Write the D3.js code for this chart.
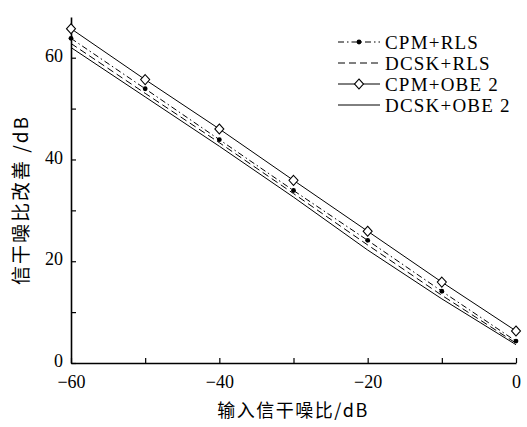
<!DOCTYPE html>
<html lang="zh">
<head>
    <meta charset="UTF-8">
    <title>信干噪比改善</title>
    <script src="https://cdn.jsdelivr.net/npm/d3@7"></script>
    <style>
        body { margin: 0; background: #fff; }
        text { font-family: "Liberation Serif", "DejaVu Serif", serif; fill: #000; }
        .cjk { font-family: "Noto Sans CJK SC", sans-serif; }
    </style>
</head>
<body>
<script>
    const snr = [-60, -50, -40, -30, -20, -10, 0]
    const cpmRls = [63.8, 53.9, 43.9, 33.9, 24.1, 14.1, 4.3]
    const dcskRls = [62.8, 53.0, 43.3, 33.3, 23.2, 13.3, 3.9]
    const cpmObe = [65.7, 55.7, 46.0, 35.9, 25.9, 15.9, 6.3]
    const dcskObe = [62.0, 52.3, 42.6, 32.6, 22.2, 12.6, 3.6]
    const xTicks = [-60, -50, -40, -30, -20, -10, 0]
    const xLabels = [-60, -40, -20, 0]
    const yTicks = [0, 10, 20, 30, 40, 50, 60]
    const yLabels = [0, 20, 40, 60]

    const [width, height] = [527, 427]
    const x = d3.scaleLinear().domain([-60, 0]).range([71, 516])
    const y = d3.scaleLinear().domain([0, 68]).range([363, 17])

    const svg = d3.select('body').append('svg')
        .attr('width', width)
        .attr('height', height)

    // axes
    const xAxis = svg.append('g').attr('transform', `translate(0,${y(0)})`)
        .call(d3.axisBottom(x).tickValues(xTicks).tickSizeInner(-5).tickSizeOuter(0)
            .tickFormat(d => xLabels.includes(d) ? d3.format('')(d) : ''))
    xAxis.select('.domain').attr('stroke-width', 1.6)
    xAxis.selectAll('.tick line').attr('stroke-width', 1.2)
    xAxis.selectAll('.tick text').attr('font-size', 18).attr('y', 12)
        .style('font-family', '"Liberation Serif", serif')

    const yAxis = svg.append('g').attr('transform', `translate(${x(-60)},0)`)
        .call(d3.axisLeft(y).tickValues(yTicks).tickSizeInner(-5).tickSizeOuter(0)
            .tickFormat(d => yLabels.includes(d) ? d : ''))
    yAxis.select('.domain').attr('stroke-width', 1.6)
    yAxis.selectAll('.tick line').attr('stroke-width', 1.2)
    yAxis.selectAll('.tick text').attr('font-size', 18).attr('x', -8).attr('dy', '0.2em')
        .style('font-family', '"Liberation Serif", serif')

    // series
    const series = [
        {name: 'CPM+RLS', values: cpmRls, dash: '6,3,1.5,3', marker: 'dot'},
        {name: 'DCSK+RLS', values: dcskRls, dash: '7,4', marker: null},
        {name: 'CPM+OBE 2', values: cpmObe, dash: null, marker: 'diamond'},
        {name: 'DCSK+OBE 2', values: dcskObe, dash: null, marker: null}
    ]
    const line = d3.line().x(d => x(d[0])).y(d => y(d[1]))
    const diamond = d3.symbol().type(d3.symbolDiamond).size(45)
    const dScale = 'scale(1.25,0.8)'

    series.forEach(s => {
        const pts = snr.map((v, i) => [v, s.values[i]])
        svg.append('path').datum(pts)
            .attr('d', line)
            .attr('fill', 'none')
            .attr('stroke', '#000')
            .attr('stroke-width', 1)
            .attr('stroke-dasharray', s.dash)
        if (s.marker === 'dot') {
            svg.selectAll(null).data(pts).enter().append('circle')
                .attr('cx', d => x(d[0])).attr('cy', d => y(d[1])).attr('r', 2.4)
                .attr('fill', '#000')
        }
        if (s.marker === 'diamond') {
            svg.selectAll(null).data(pts).enter().append('path')
                .attr('d', diamond)
                .attr('transform', d => `translate(${x(d[0])},${y(d[1])}) ${dScale}`)
                .attr('fill', '#fff').attr('stroke', '#000').attr('stroke-width', 1)
        }
    })

    // legend
    const legend = svg.append('g').attr('transform', 'translate(338,42)')
    series.forEach((s, i) => {
        const g = legend.append('g').attr('transform', `translate(0,${i * 21})`)
        g.append('line').attr('x1', 0).attr('x2', 42).attr('y1', 0).attr('y2', 0)
            .attr('stroke', '#000').attr('stroke-width', 1)
            .attr('stroke-dasharray', s.dash)
        if (s.marker === 'dot') g.append('circle').attr('cx', 21).attr('cy', 0).attr('r', 2.4)
        if (s.marker === 'diamond') g.append('path').attr('d', diamond)
            .attr('transform', `translate(21,0) ${dScale}`)
            .attr('fill', '#fff').attr('stroke', '#000')
        g.append('text').attr('x', 47).attr('y', 7).attr('font-size', 19)
            .attr('letter-spacing', 1.2).text(s.name)
    })

    // axis titles
    svg.append('text').attr('class', 'cjk')
        .attr('x', 293).attr('y', 417).attr('text-anchor', 'middle').attr('font-size', 18)
        .attr('letter-spacing', 1.5)
        .text('输入信干噪比/dB')
    svg.append('text').attr('class', 'cjk')
        .attr('transform', 'translate(28,200) rotate(-90)')
        .attr('text-anchor', 'middle').attr('font-size', 19)
        .attr('letter-spacing', 2)
        .text('信干噪比改善 /dB')
</script>
</body>
</html>
